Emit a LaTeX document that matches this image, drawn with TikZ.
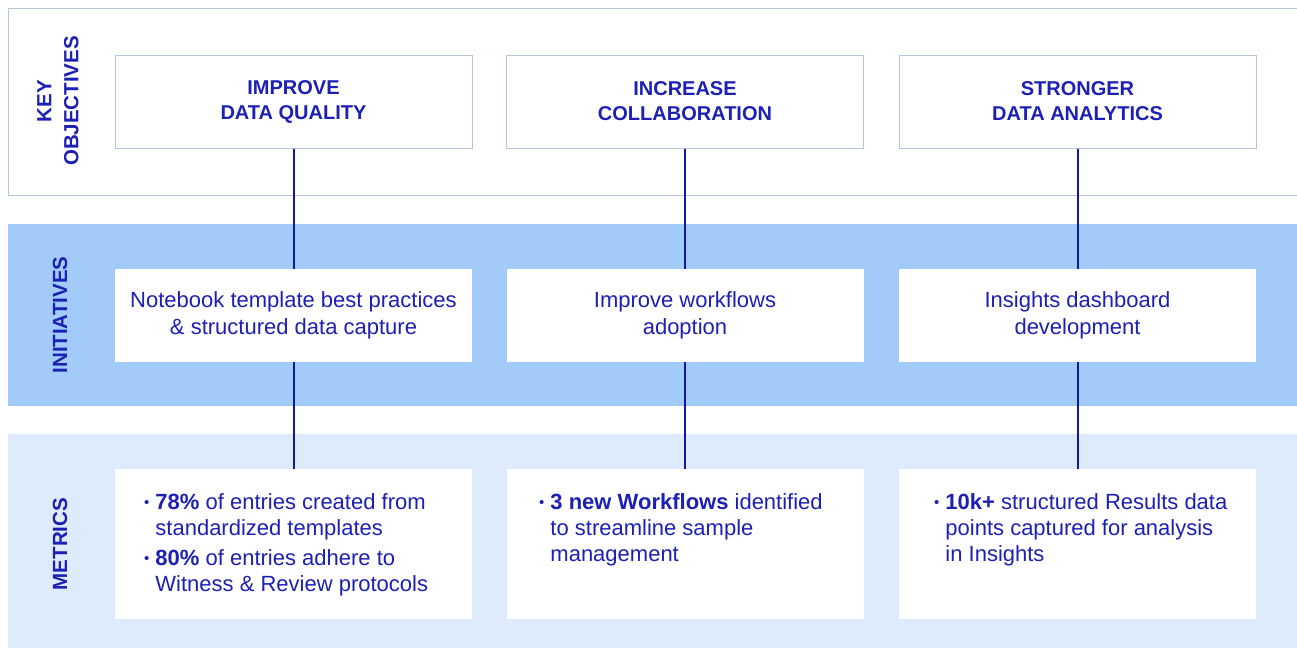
\documentclass[tikz,border=0pt]{standalone}
\usepackage{fontspec}
\setmainfont{Liberation Sans}
\definecolor{inkblue}{HTML}{1C20B4}
\definecolor{lineblue}{HTML}{1515A6}
\definecolor{bandblue}{HTML}{A3CBFA}
\definecolor{paleband}{HTML}{DDEBFC}
\definecolor{frameblue}{HTML}{B5C7DF}
\newcommand{\mbul}{{\fontsize{15}{15}\selectfont\raisebox{1.5pt}{•}}}
\tikzset{
  objbox/.style={draw=frameblue, line width=1pt, fill=white, minimum width=357pt, minimum height=93pt, align=center, text=inkblue, font=\fontsize{20}{25}\selectfont\bfseries},
  initbox/.style={fill=white, minimum width=357pt, minimum height=93pt, align=center, text=inkblue, font=\fontsize{22}{27}\selectfont},
  metbox/.style={fill=white, minimum width=357pt, minimum height=150pt},
  mettext/.style={anchor=north west, inner sep=0pt, text=inkblue, font=\fontsize{22}{26}\selectfont},
  rowlabel/.style={rotate=90, align=center, text=inkblue, font=\fontsize{20.5}{27}\selectfont\bfseries},
  link/.style={draw=lineblue, line width=2pt}
}
\begin{document}
\begin{tikzpicture}[x=1pt,y=-1pt]
    \useasboundingbox (0,0) rectangle (1297,648);
    % bands
    \draw[frameblue, line width=1pt] (1297,8) -| (8,195) -- (1297,195);
    \fill[bandblue] (8,224) rectangle (1297,406);
    \fill[paleband] (8,434) rectangle (1297,648);
    % row labels
    \node[rowlabel] (lobj) at (58,101) {KEY\\OBJECTIVES};
    \node[rowlabel] (linit) at (60,315) {INITIATIVES};
    \node[rowlabel] (lmet) at (60,544) {METRICS};
    % key objectives
    \node[objbox] (o1) at (293.5,101.5) {IMPROVE\\DATA QUALITY};
    \node[objbox] (o2) at (685,101.5) {INCREASE\\COLLABORATION};
    \node[objbox] (o3) at (1077.5,101.5) {STRONGER\\DATA ANALYTICS};
    % initiatives
    \node[initbox] (i1) at (293.5,315.5) {Notebook template best practices\\\& structured data capture};
    \node[initbox] (i2) at (685,315.5) {Improve workflows\\adoption};
    \node[initbox] (i3) at (1077.5,315.5) {Insights dashboard\\development};
    % metrics
    \node[metbox] (m1) at (293.5,544) {};
    \node[metbox] (m2) at (685,544) {};
    \node[metbox] (m3) at (1077.5,544) {};
    \node[mettext] (t1) at (144,491) {\begin{tabular}{@{}l@{\hspace{6pt}}l@{}}
        \mbul & \textbf{78\%} of entries created from\\
              & standardized templates\\[4pt]
        \mbul & \textbf{80\%} of entries adhere to\\
              & Witness \& Review protocols
        \end{tabular}};
    \node[mettext] (t2) at (539,491) {\begin{tabular}{@{}l@{\hspace{6pt}}l@{}}
        \mbul & \textbf{3 new Workflows} identified\\
              & to streamline sample\\
              & management
        \end{tabular}};
    \node[mettext] (t3) at (934,491) {\begin{tabular}{@{}l@{\hspace{6pt}}l@{}}
        \mbul & \textbf{10k+} structured Results data\\
              & points captured for analysis\\
              & in Insights
        \end{tabular}};
    % links
    \draw[link] (o1) -- (i1);
    \draw[link] (o2) -- (i2);
    \draw[link] (o3) -- (i3);
    \draw[link] (i1) -- (m1);
    \draw[link] (i2) -- (m2);
    \draw[link] (i3) -- (m3);
\end{tikzpicture}
\end{document}
